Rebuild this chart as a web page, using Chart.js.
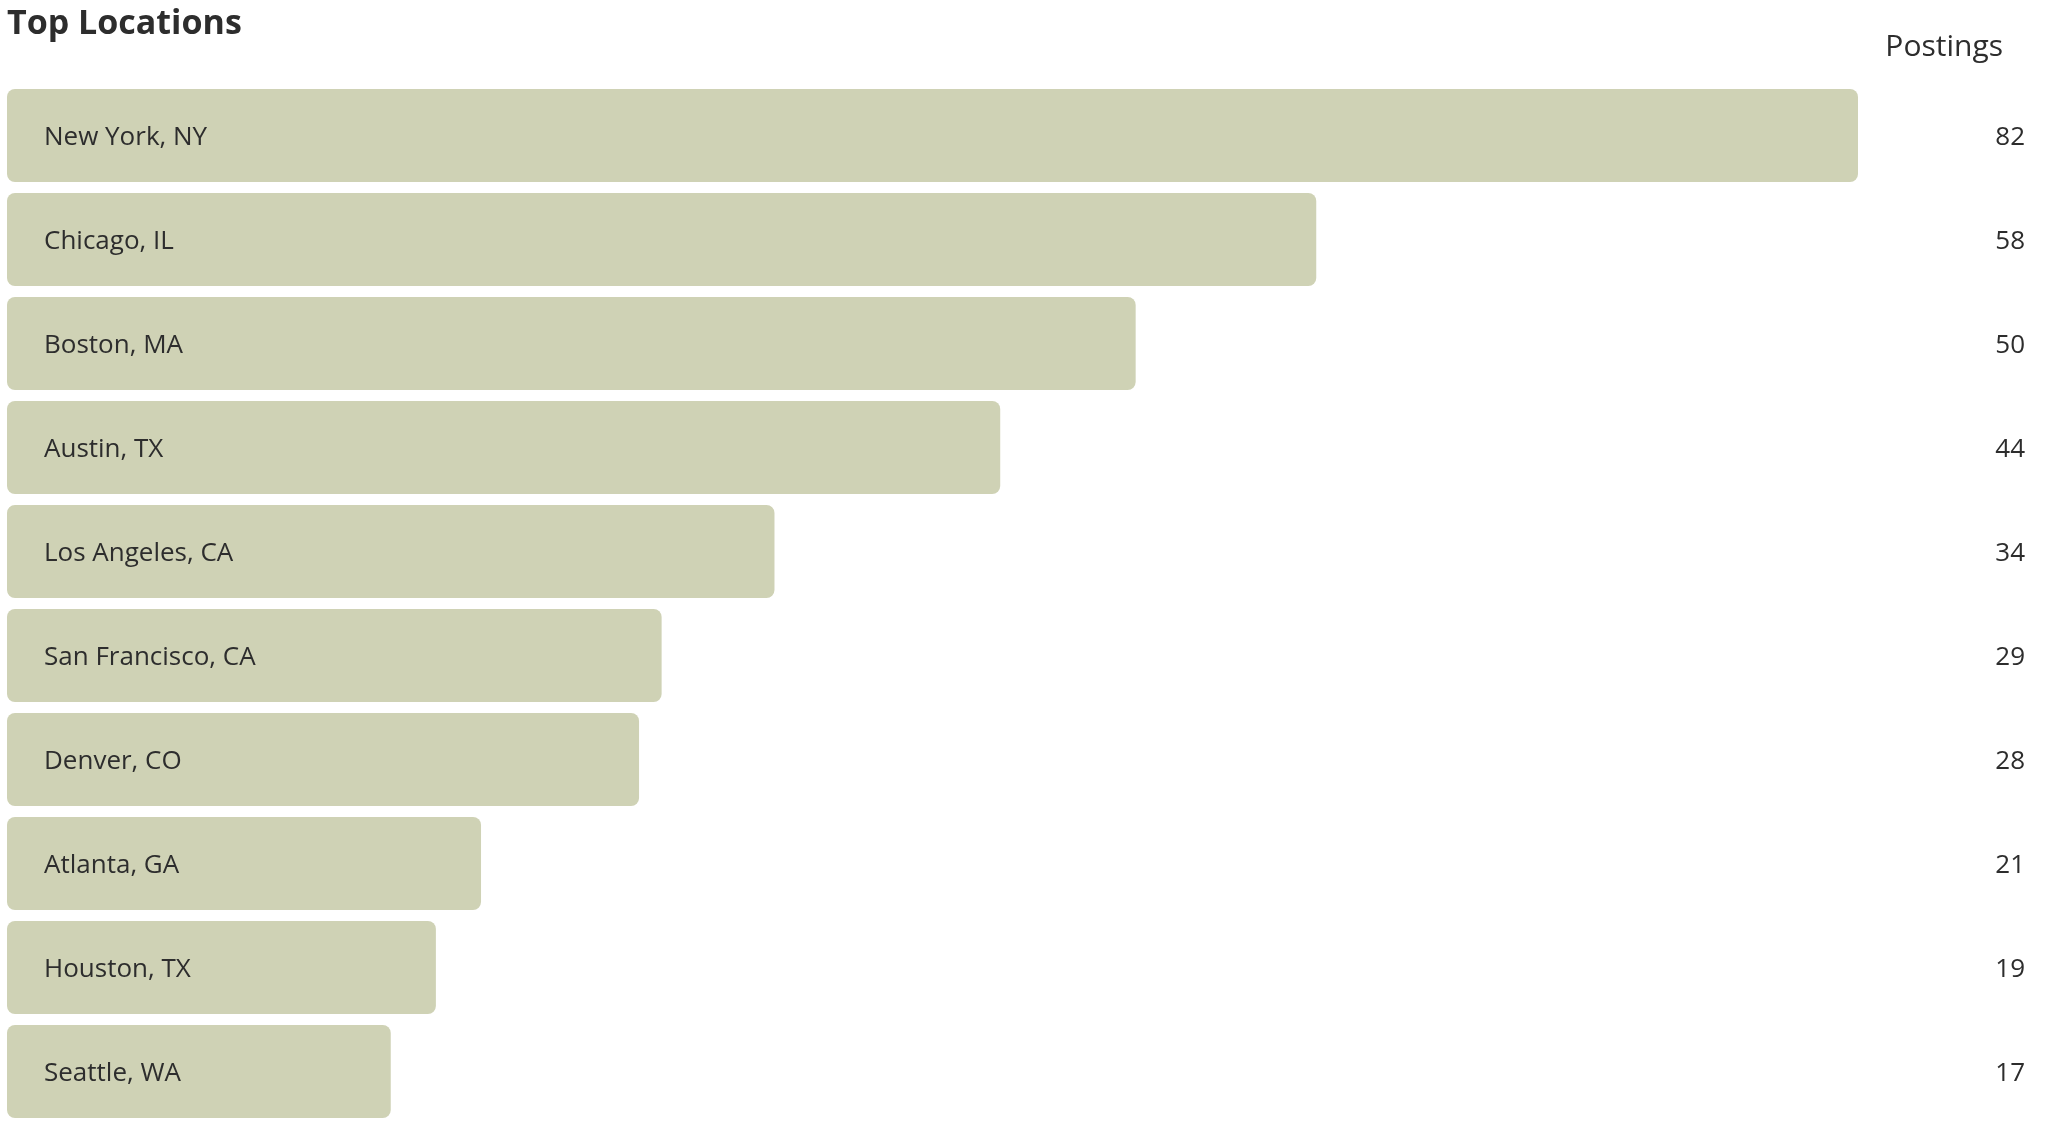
<!DOCTYPE html>
<html>
<head>
<meta charset="utf-8">
<title>Top Locations</title>
<script src="https://cdn.jsdelivr.net/npm/chart.js@4/dist/chart.umd.min.js"></script>
<style>
    html, body { margin: 0; padding: 0; background: #fff; }
    #wrap { width: 2048px; height: 1126px; position: relative; }
</style>
</head>
<body>
<div id="wrap"><canvas id="chart"></canvas></div>
<script>
const titleText = 'Top Locations';
const valueHeader = 'Postings';
const locations = [
    'New York, NY', 'Chicago, IL', 'Boston, MA', 'Austin, TX', 'Los Angeles, CA',
    'San Francisco, CA', 'Denver, CO', 'Atlanta, GA', 'Houston, TX', 'Seattle, WA'
];
const postings = [82, 58, 50, 44, 34, 29, 28, 21, 19, 17];

const barColor = '#cfd2b5';
const textColor = '#2d2d2d';
const fontFamily = '"Open Sans", "Noto Sans", sans-serif';

// draws the title, the column header, names inside bars and the counts on the right
const textPlugin = {
    id: 'textPlugin',
    afterDatasetsDraw(chart) {
        const ctx = chart.ctx;
        const meta = chart.getDatasetMeta(0);
        const xScale = chart.scales.x;
        ctx.save();
        ctx.fillStyle = textColor;

        ctx.font = '700 34px ' + fontFamily;
        ctx.textAlign = 'left';
        ctx.textBaseline = 'alphabetic';
        ctx.fillText(titleText, 7, 34);

        ctx.font = '400 30px ' + fontFamily;
        ctx.textAlign = 'right';
        ctx.fillText(valueHeader, 2003, 56);

        ctx.font = '400 26px ' + fontFamily;
        ctx.textBaseline = 'middle';
        meta.data.forEach((bar, i) => {
            ctx.textAlign = 'left';
            ctx.fillText(locations[i], xScale.getPixelForValue(0) + 37, bar.y + 2);
            ctx.textAlign = 'right';
            ctx.fillText(String(postings[i]), 2025, bar.y + 2);
        });
        ctx.restore();
    }
};

new Chart(document.getElementById('chart'), {
    type: 'bar',
    data: {
        labels: locations,
        datasets: [{
            data: postings,
            backgroundColor: barColor,
            borderRadius: 8,
            borderSkipped: false,
            categoryPercentage: 1,
            barPercentage: 0.894
        }]
    },
    options: {
        indexAxis: 'y',
        responsive: true,
        maintainAspectRatio: false,
        animation: false,
        layout: { padding: { left: 7, right: 190, top: 83.5, bottom: 2.5 } },
        scales: {
            x: { display: false, min: 0, max: 82 },
            y: { display: false }
        },
        plugins: {
            legend: { display: false },
            tooltip: { enabled: false }
        }
    },
    plugins: [textPlugin]
});
</script>
</body>
</html>
